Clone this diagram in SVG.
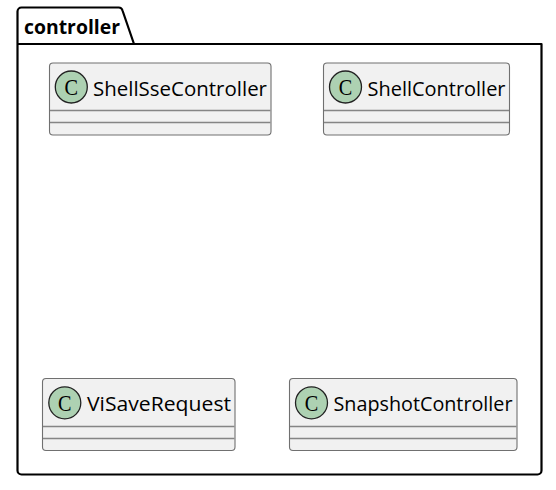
<svg xmlns="http://www.w3.org/2000/svg" width="556" height="490" viewBox="0 0 556 490">
<style>
.box{fill:#f1f1f1;stroke:#707070;stroke-width:1.1}
.div{stroke:#858585;stroke-width:1.500;fill:none}
.spot{fill:#add1b2;stroke:#222;stroke-width:1.300}
.c{font-family:"Liberation Serif",serif;font-size:24px;fill:#000;text-anchor:middle}
.n{font-family:"Open Sans","Noto Sans",sans-serif;font-size:20px;fill:#000}
.p{font-family:"Open Sans","Noto Sans",sans-serif;font-size:20px;font-weight:700;fill:#000}
.pk{fill:#fff;stroke:#000;stroke-width:2.200;stroke-linejoin:round}
</style>
<g id="package-controller">
<path class="pk" d="M18 44H541.500V470.500a4 4 0 0 1-4 4H21.500a4 4 0 0 1-4-4V11.500a4 4 0 0 1 4-4H118.500a4 4 0 0 1 4 3L134 44"/>
<text class="p" x="24" y="33.500" textLength="96" lengthAdjust="spacingAndGlyphs">controller</text>
</g>
<g id="ShellSseController">
<rect class="box" x="49.500" y="63" width="221.500" height="72" rx="3.500"/>
<line class="div" x1="50" y1="110.500" x2="270.500" y2="110.500"/><line class="div" x1="50" y1="122.500" x2="270.500" y2="122.500"/>
<circle class="spot" cx="71.300" cy="87" r="16"/><text class="c" x="71.300" y="95" textLength="13.500" lengthAdjust="spacingAndGlyphs">C</text>
<text class="n" x="93" y="95.500" textLength="174" lengthAdjust="spacingAndGlyphs">ShellSseController</text>
</g>
<g id="ShellController">
<rect class="box" x="323.500" y="63" width="186" height="72" rx="3.500"/>
<line class="div" x1="324" y1="110.500" x2="509" y2="110.500"/><line class="div" x1="324" y1="122.500" x2="509" y2="122.500"/>
<circle class="spot" cx="345.500" cy="87" r="16"/><text class="c" x="345.500" y="95" textLength="13.500" lengthAdjust="spacingAndGlyphs">C</text>
<text class="n" x="367.500" y="95.500" textLength="138" lengthAdjust="spacingAndGlyphs">ShellController</text>
</g>
<g id="ViSaveRequest">
<rect class="box" x="42.500" y="378.500" width="192.500" height="72" rx="3.500"/>
<line class="div" x1="43" y1="426.500" x2="234.500" y2="426.500"/><line class="div" x1="43" y1="438.500" x2="234.500" y2="438.500"/>
<circle class="spot" cx="64.800" cy="402.800" r="16"/><text class="c" x="64.800" y="410.800" textLength="13.500" lengthAdjust="spacingAndGlyphs">C</text>
<text class="n" x="87" y="411" textLength="144" lengthAdjust="spacingAndGlyphs">ViSaveRequest</text>
</g>
<g id="SnapshotController">
<rect class="box" x="289.500" y="378.500" width="227.500" height="72" rx="3.500"/>
<line class="div" x1="290" y1="426.500" x2="516.500" y2="426.500"/><line class="div" x1="290" y1="438.500" x2="516.500" y2="438.500"/>
<circle class="spot" cx="311.500" cy="402.800" r="16"/><text class="c" x="311.500" y="410.800" textLength="13.500" lengthAdjust="spacingAndGlyphs">C</text>
<text class="n" x="333.500" y="411" textLength="179" lengthAdjust="spacingAndGlyphs">SnapshotController</text>
</g>
<g id="connectors"></g>
</svg>
